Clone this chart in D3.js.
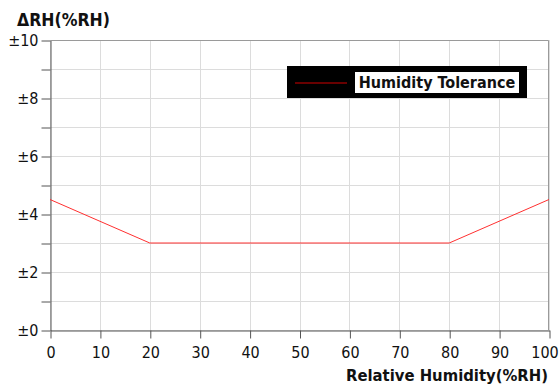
<!DOCTYPE html>
<html>
<head>
<meta charset="utf-8">
<script src="https://cdn.jsdelivr.net/npm/d3@7"></script>
<style>
  body { margin: 0; background: #fff; }
  svg { display: block; font-family: "DejaVu Sans Condensed", "DejaVu Sans", Verdana, sans-serif; }
</style>
</head>
<body>
<div class="box"></div>
<script>
// DATA
const humidity = [0, 20, 80, 100];          // %RH
const tolerance = [4.5, 3, 3, 4.5];         // ±%RH
const xTicks = [0, 10, 20, 30, 40, 50, 60, 70, 80, 90, 100];
const yTicks = [0, 1, 2, 3, 4, 5, 6, 7, 8, 9, 10];
const seriesName = 'Humidity Tolerance';
const yTitle = 'ΔRH(%RH)';
const xTitle = 'Relative Humidity(%RH)';

// SETUP
const width = 560, height = 385;
const margin = {top: 40, right: 11, bottom: 55, left: 50};
const graphWidth = width - margin.left - margin.right;
const graphHeight = height - margin.top - margin.bottom;
const font = '"DejaVu Sans Condensed", "DejaVu Sans", Verdana, sans-serif';

const svg = d3.select('.box')
              .append('svg')
              .attr('width', width)
              .attr('height', height);

const graph = svg.append('g')
                 .attr('transform', `translate(${margin.left}, ${margin.top})`);

const x = d3.scaleLinear().domain([0, 100]).range([0, graphWidth]);
const y = d3.scaleLinear().domain([0, 10]).range([graphHeight, 0]);

// grid lines
graph.append('g')
     .selectAll('line')
     .data(yTicks)
     .join('line')
     .attr('x1', 0).attr('x2', graphWidth)
     .attr('y1', d => Math.round(y(d)) + 0.5)
     .attr('y2', d => Math.round(y(d)) + 0.5)
     .attr('stroke', '#dcdcdc');

graph.append('g')
     .selectAll('line')
     .data(xTicks)
     .join('line')
     .attr('y1', 0).attr('y2', graphHeight)
     .attr('x1', d => Math.round(x(d)) + 0.5)
     .attr('x2', d => Math.round(x(d)) + 0.5)
     .attr('stroke', '#dcdcdc');

// top and right border
graph.append('path')
     .attr('d', `M0.5,0.5H${graphWidth - 0.5}V${graphHeight}`)
     .attr('fill', 'none')
     .attr('stroke', '#9a9a9a');

// axes
const axisX = d3.axisBottom(x)
                .tickValues(xTicks)
                .tickSize(8)
                .tickPadding(6)
                .tickSizeOuter(0);
const axisY = d3.axisLeft(y)
                .tickValues(yTicks)
                .tickSize(9)
                .tickPadding(3)
                .tickSizeOuter(0)
                .tickFormat(d => d % 2 === 0 ? '±' + d : '');

const groupX = graph.append('g')
                    .attr('transform', `translate(0.5, ${graphHeight + 0.5})`)
                    .call(axisX);
const groupY = graph.append('g')
                    .attr('transform', 'translate(0.5, 0.5)')
                    .call(axisY);

[groupX, groupY].forEach(g => {
  g.selectAll('path, line').attr('stroke', '#555');
  g.selectAll('text')
   .style('font-family', font)
   .style('font-size', '16px')
   .attr('fill', '#111');
});
groupX.selectAll('text').attr('dy', '0.85em');
// last label pulled in so it stays inside the picture
groupX.selectAll('text').filter(d => d === 100).attr('dx', -5);

// tolerance line
const line = d3.line()
               .x(d => x(d[0]))
               .y(d => y(d[1]));

graph.append('path')
     .datum(d3.zip(humidity, tolerance))
     .attr('d', line)
     .attr('fill', 'none')
     .attr('stroke', '#ff3030')
     .attr('stroke-width', 1);

// titles
svg.append('text')
   .text(yTitle)
   .attr('x', 17)
   .attr('y', 26)
   .style('font-weight', 'bold')
   .style('font-size', '17.5px')
   .attr('fill', '#111');

svg.append('text')
   .text(xTitle)
   .attr('x', 548)
   .attr('y', 381)
   .attr('text-anchor', 'end')
   .style('font-weight', 'bold')
   .style('font-size', '16.5px')
   .attr('fill', '#111');

// legend
const legend = svg.append('g').attr('transform', 'translate(287, 66)');
legend.append('rect')
      .attr('width', 240).attr('height', 32)
      .attr('fill', '#000');
legend.append('line')
      .attr('x1', 8).attr('x2', 60)
      .attr('y1', 17).attr('y2', 17)
      .attr('stroke', '#d00000')
      .attr('stroke-width', 1);
legend.append('rect')
      .attr('x', 68).attr('y', 6)
      .attr('width', 164).attr('height', 21)
      .attr('fill', '#fff');
legend.append('text')
      .text(seriesName)
      .attr('x', 150).attr('y', 22)
      .attr('text-anchor', 'middle')
      .style('font-weight', 'bold')
      .style('font-size', '16px')
      .attr('fill', '#111');
</script>
</body>
</html>
